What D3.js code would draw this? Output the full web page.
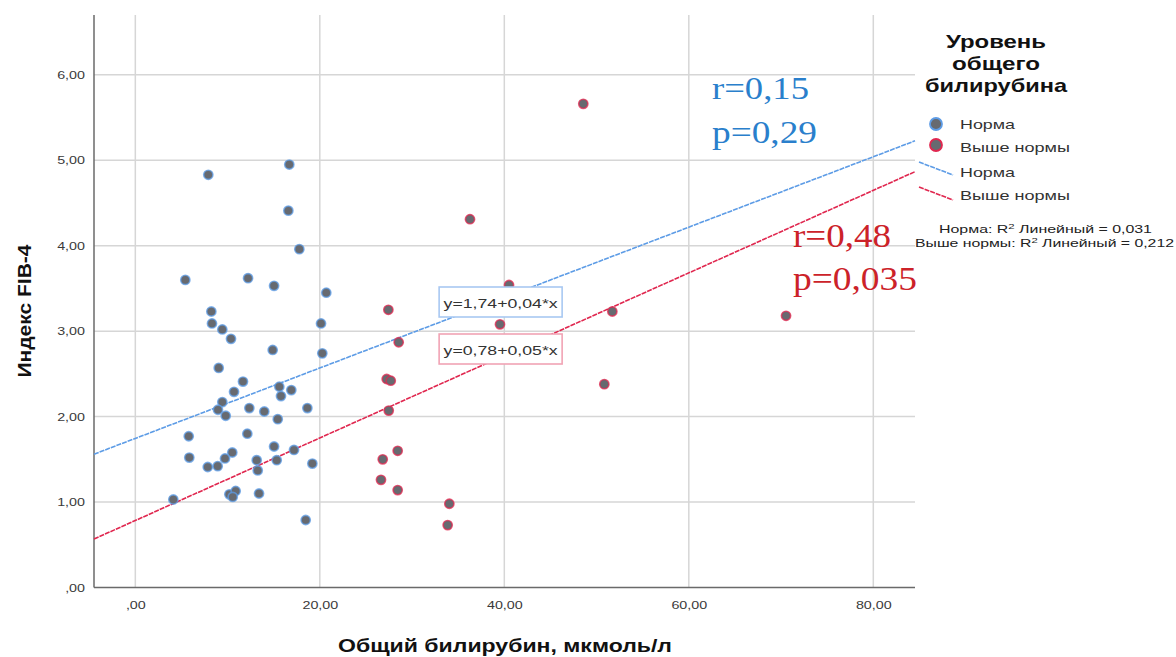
<!DOCTYPE html>
<html>
<head>
<meta charset="utf-8">
<script src="https://cdn.jsdelivr.net/npm/d3@7"></script>
<style>
  html, body { margin: 0; padding: 0; background: #fff; }
  svg { display: block; font-family: "Liberation Sans", Arial, sans-serif; }
</style>
</head>
<body>
<svg id="chart" width="1176" height="657"></svg>
<script>
// Общий билирубин (мкмоль/л) и индекс FIB-4, группа «Норма»
const normaBili = [7.91, 16.69, 16.59, 17.78, 5.42, 12.22, 15.04, 20.70, 8.24, 8.31,
  9.43, 10.37, 20.13, 14.89, 20.27, 9.04, 11.67, 10.70, 15.61, 16.91,
  15.79, 9.43, 8.96, 9.80, 12.36, 13.98, 15.44, 18.65, 5.79, 12.14,
  15.04, 17.20, 10.51, 9.72, 8.93, 7.85, 5.85, 13.16, 13.27, 15.33,
  19.19, 4.12, 10.19, 10.88, 10.56, 13.41, 18.47];
const normaFib = [4.83, 4.95, 4.41, 3.96, 3.60, 3.62, 3.53, 3.45, 3.23, 3.09,
  3.02, 2.91, 3.09, 2.78, 2.74, 2.57, 2.41, 2.29, 2.35, 2.31,
  2.24, 2.17, 2.08, 2.01, 2.10, 2.06, 1.97, 2.10, 1.77, 1.80,
  1.65, 1.61, 1.58, 1.51, 1.42, 1.41, 1.52, 1.49, 1.37, 1.49,
  1.45, 1.03, 1.09, 1.13, 1.06, 1.10, 0.79];

// Группа «Выше нормы»
const highBili = [36.28, 40.51, 27.43, 39.53, 51.71, 28.55, 27.25, 27.69, 50.84,
  27.47, 28.44, 26.82, 26.63, 28.44, 34.04, 33.86, 48.56, 70.54];
const highFib = [4.31, 3.54, 3.25, 3.08, 3.23, 2.87, 2.44, 2.42, 2.38,
  2.07, 1.60, 1.50, 1.26, 1.14, 0.98, 0.73, 5.66, 3.18];

// Линейные тренды: [свободный член, наклон]
const normaFit = [1.745, 0.0412];
const highFit = [0.784, 0.0483];
const normaEquation = "y=1,74+0,04*x";
const highEquation = "y=0,78+0,05*x";

const xTicks = [0, 20, 40, 60, 80];
const xTickLabels = [",00", "20,00", "40,00", "60,00", "80,00"];
const yTicks = [0, 1, 2, 3, 4, 5, 6];
const yTickLabels = [",00", "1,00", "2,00", "3,00", "4,00", "5,00", "6,00"];

const groupNames = ["Норма", "Выше нормы"];
const rSquared = ["0,031", "0,212"];
const normaStats = ["r=0,15", "p=0,29"];
const highStats = ["r=0,48", "p=0,035"];

const blue = "#5d9ce6";
const red = "#e0274f";
const pointFill = "#676a70";

const svg = d3.select("#chart");
const plot = { left: 94, right: 915, top: 15, bottom: 587.5 };

const x = d3.scaleLinear().domain([-4.48, 84.52]).range([plot.left, plot.right]);
const y = d3.scaleLinear().domain([0, 6.7]).range([plot.bottom, plot.top]);

// растягивает текст по горизонтали на заданный множитель
function widen(sel, k) {
  sel.each(function () {
    const w = this.getComputedTextLength();
    d3.select(this).attr("textLength", w * k).attr("lengthAdjust", "spacingAndGlyphs");
  });
}

// Сетка
const grid = svg.append("g");
grid.selectAll("line.vx").data(xTicks).join("line")
  .attr("x1", d => x(d)).attr("x2", d => x(d))
  .attr("y1", plot.top).attr("y2", plot.bottom)
  .attr("stroke", "#d6d6d6").attr("stroke-width", 1.5);
grid.selectAll("line.hy").data(yTicks.slice(1)).join("line")
  .attr("x1", plot.left).attr("x2", plot.right)
  .attr("y1", d => y(d)).attr("y2", d => y(d))
  .attr("stroke", "#d6d6d6").attr("stroke-width", 1.5);

// Оси
const xAxis = d3.axisBottom(x).tickValues(xTicks)
  .tickFormat((d, i) => xTickLabels[i]).tickSize(0).tickPadding(14);
const gx = svg.append("g").attr("transform", `translate(0,${plot.bottom})`).call(xAxis);
gx.select(".domain").attr("stroke", "#6a6a6a").attr("stroke-width", 1.5)
  .attr("d", `M${plot.left},0H${plot.right}`);
gx.selectAll("text").attr("font-size", 11).attr("fill", "#3a3a3a")
  .attr("font-family", "Liberation Sans, Arial, sans-serif");
widen(gx.selectAll("text"), 1.3);

const yAxis = d3.axisLeft(y).tickValues(yTicks)
  .tickFormat((d, i) => yTickLabels[i]).tickSize(0).tickPadding(9);
const gy = svg.append("g").attr("transform", `translate(${plot.left},0)`).call(yAxis);
gy.select(".domain").attr("stroke", "#6a6a6a").attr("stroke-width", 1.5)
  .attr("d", `M0,${plot.top}V${plot.bottom}`);
gy.selectAll("text").attr("font-size", 11).attr("fill", "#3a3a3a")
  .attr("font-family", "Liberation Sans, Arial, sans-serif");
widen(gy.selectAll("text"), 1.3);

// Линии тренда
const xDom = x.domain();
function fitLine(fit, color) {
  svg.append("line")
    .attr("x1", x(xDom[0])).attr("y1", y(fit[0] + fit[1] * xDom[0]))
    .attr("x2", x(xDom[1])).attr("y2", y(fit[0] + fit[1] * xDom[1]))
    .attr("stroke", color).attr("stroke-width", 1.6)
    .attr("stroke-dasharray", "5,1");
}
fitLine(normaFit, blue);
fitLine(highFit, red);

// Точки
function points(xs, ys, color) {
  svg.append("g").selectAll("circle").data(xs).join("circle")
    .attr("cx", d => x(d)).attr("cy", (d, i) => y(ys[i]))
    .attr("r", 4.6)
    .attr("fill", pointFill)
    .attr("stroke", color).attr("stroke-opacity", 0.75).attr("stroke-width", 1.6);
}
points(normaBili, normaFib, blue);
points(highBili, highFib, red);

// Уравнения трендов
function equationBox(text, cx, top, border) {
  const w = 123, h = 30;
  svg.append("rect").attr("x", cx - w / 2).attr("y", top).attr("width", w).attr("height", h)
    .attr("fill", "#fff").attr("stroke", border).attr("stroke-width", 1.6);
  svg.append("text").attr("x", cx).attr("y", top + 21).attr("text-anchor", "middle")
    .attr("font-size", 12.5).attr("fill", "#333")
    .attr("textLength", 114).attr("lengthAdjust", "spacingAndGlyphs")
    .text(text);
}
const eqX = x(39.6);
equationBox(normaEquation, eqX, 287, "#a8c8f2");
equationBox(highEquation, eqX, 334, "#f1a3b4");

// Коэффициенты корреляции
function statsText(lines, x0, baselines, size, color, widths) {
  lines.forEach((t, i) => {
    svg.append("text").attr("x", x0).attr("y", baselines[i])
      .attr("font-family", "Liberation Serif, Times New Roman, serif")
      .attr("font-size", size).attr("fill", color)
      .attr("textLength", widths[i]).attr("lengthAdjust", "spacingAndGlyphs")
      .text(t);
  });
}
statsText(normaStats, 712, [99, 143], 31, "#2a7fcc", [97, 105]);
statsText(highStats, 793, [247, 290], 33, "#cc2229", [98, 124]);

// Подписи осей
svg.append("text")
  .attr("transform", `translate(31,311) rotate(-90)`)
  .attr("text-anchor", "middle").attr("font-size", 18).attr("font-weight", "bold")
  .attr("fill", "#111")
  .attr("textLength", 133).attr("lengthAdjust", "spacingAndGlyphs")
  .text("Индекс FIB-4");
svg.append("text")
  .attr("x", 505).attr("y", 652).attr("text-anchor", "middle")
  .attr("font-size", 18).attr("font-weight", "bold").attr("fill", "#111")
  .attr("textLength", 334).attr("lengthAdjust", "spacingAndGlyphs")
  .text("Общий билирубин, мкмоль/л");

// Легенда
const legend = svg.append("g");
const titleWidths = [100, 88, 142];
["Уровень", "общего", "билирубина"].forEach((t, i) => {
  legend.append("text").attr("x", 996).attr("y", 48 + i * 22)
    .attr("text-anchor", "middle").attr("font-size", 19).attr("font-weight", "bold")
    .attr("fill", "#111")
    .attr("textLength", titleWidths[i]).attr("lengthAdjust", "spacingAndGlyphs")
    .text(t);
});
const itemWidths = [55, 110];
[blue, red].forEach((c, i) => {
  legend.append("circle").attr("cx", 936).attr("cy", 124 + i * 21).attr("r", 6)
    .attr("fill", pointFill).attr("stroke", c).attr("stroke-width", 1.8);
  legend.append("text").attr("x", 960).attr("y", 129 + i * 23)
    .attr("font-size", 13).attr("fill", "#333")
    .attr("textLength", itemWidths[i]).attr("lengthAdjust", "spacingAndGlyphs")
    .text(groupNames[i]);
});
[blue, red].forEach((c, i) => {
  legend.append("line").attr("x1", 919).attr("y1", 162 + i * 25)
    .attr("x2", 953).attr("y2", 175 + i * 25)
    .attr("stroke", c).attr("stroke-width", 1.6).attr("stroke-dasharray", "5,1");
  legend.append("text").attr("x", 960).attr("y", 177 + i * 23)
    .attr("font-size", 13).attr("fill", "#333")
    .attr("textLength", itemWidths[i]).attr("lengthAdjust", "spacingAndGlyphs")
    .text(groupNames[i]);
});
const r2 = legend.append("g").attr("font-size", 10.5).attr("fill", "#222");
const r2a = r2.append("text").attr("x", 939).attr("y", 233)
  .attr("textLength", 213).attr("lengthAdjust", "spacingAndGlyphs");
r2a.append("tspan").text(groupNames[0] + ": R");
r2a.append("tspan").attr("dy", -4).attr("font-size", 7.5).text("2");
r2a.append("tspan").attr("dy", 4).text(" Линейный = " + rSquared[0]);
const r2b = r2.append("text").attr("x", 915).attr("y", 247)
  .attr("textLength", 259).attr("lengthAdjust", "spacingAndGlyphs");
r2b.append("tspan").text(groupNames[1] + ": R");
r2b.append("tspan").attr("dy", -4).attr("font-size", 7.5).text("2");
r2b.append("tspan").attr("dy", 4).text(" Линейный = " + rSquared[1]);
</script>
</body>
</html>
